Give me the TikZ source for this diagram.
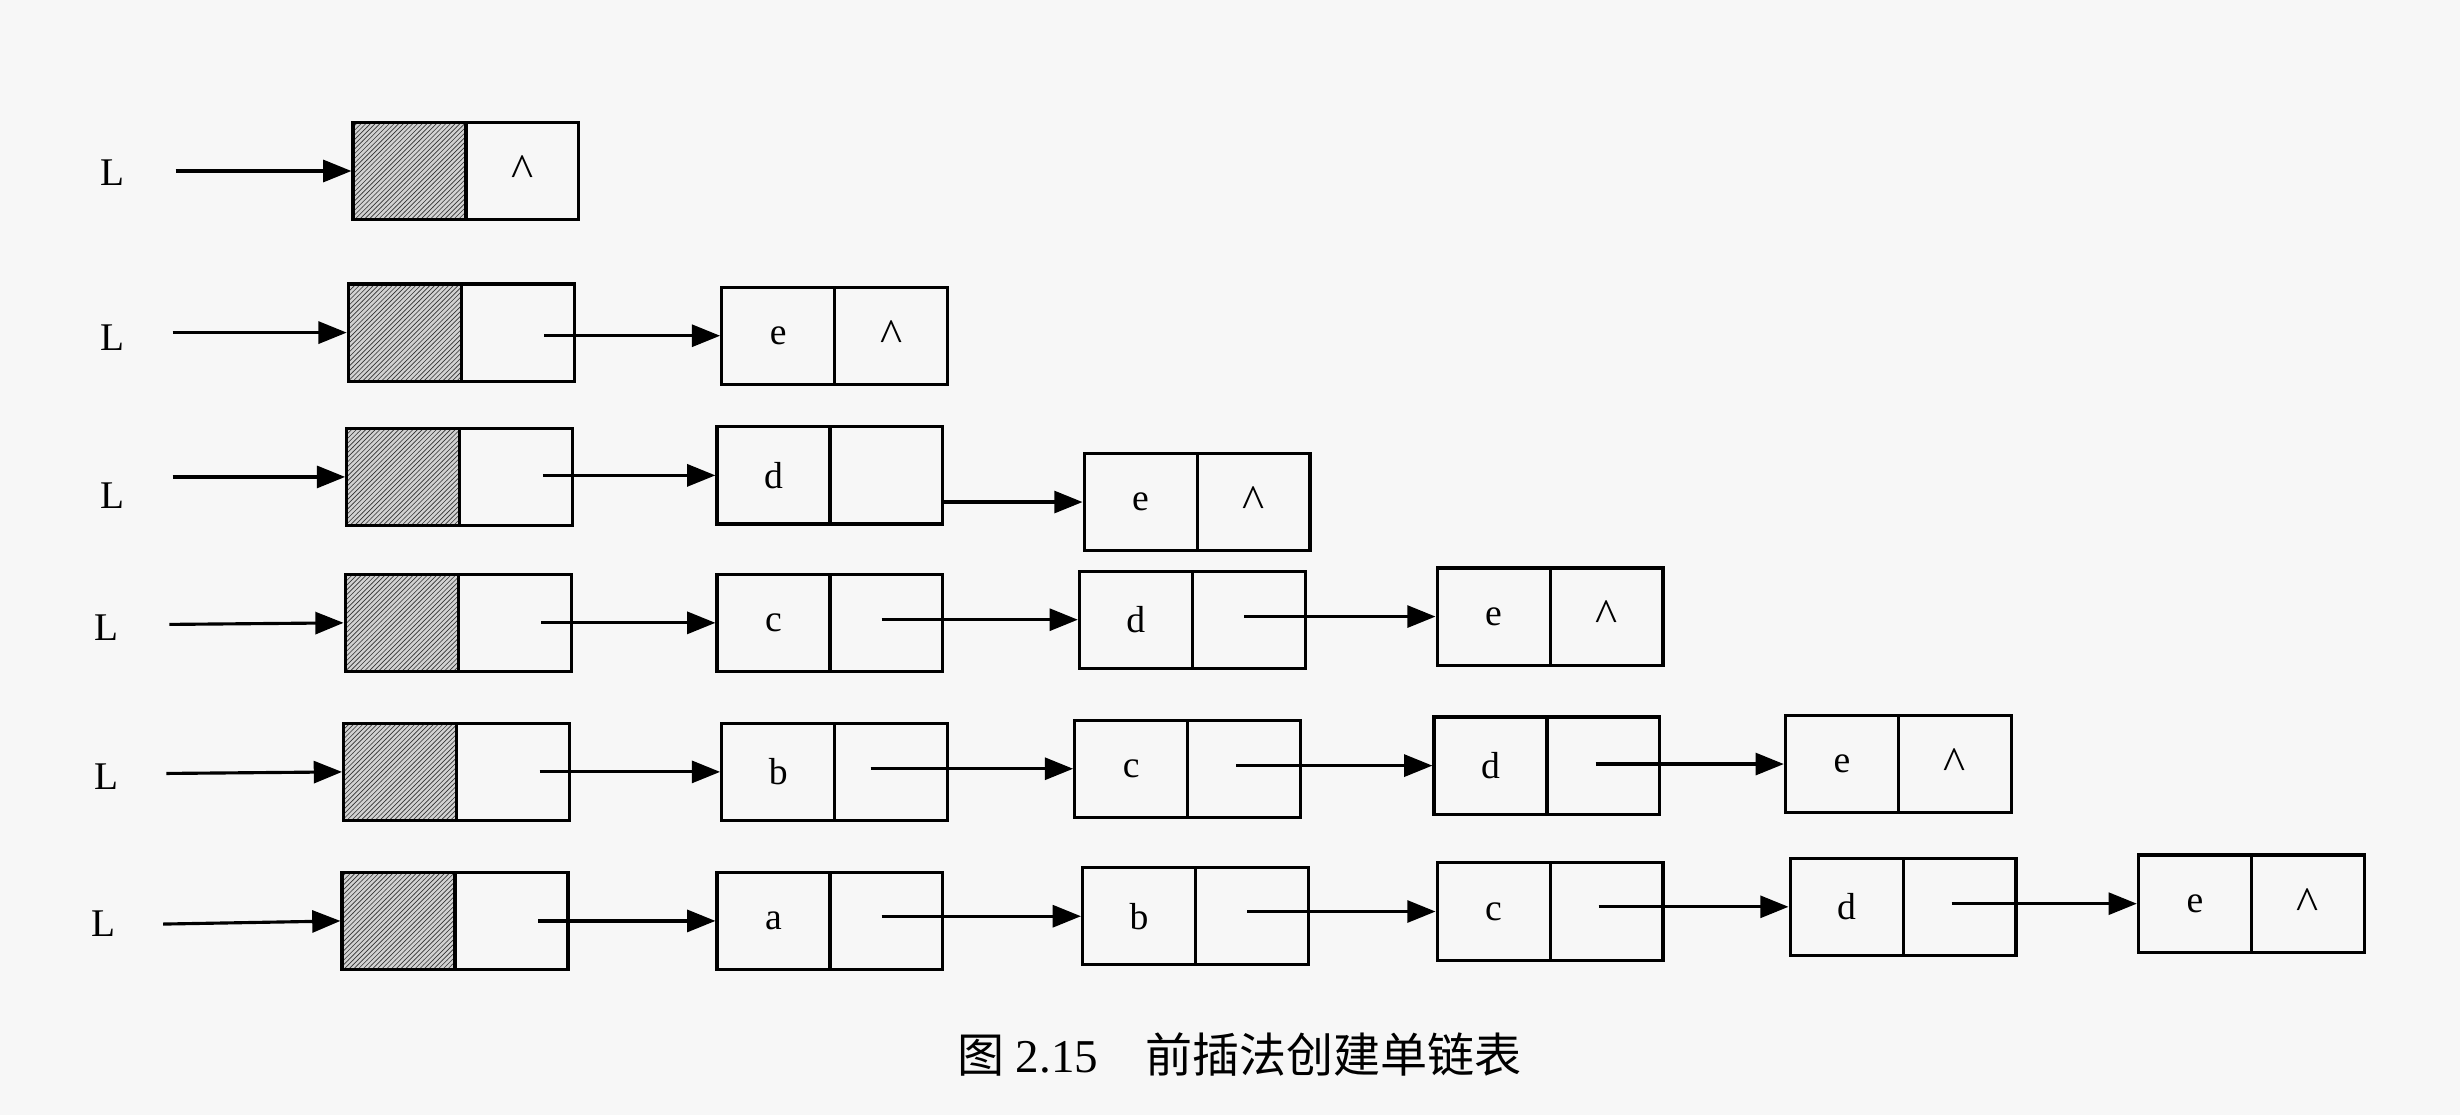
\documentclass[tikz,border=0pt]{standalone}
\usepackage{fontspec}
\setmainfont{Liberation Serif}
\newfontfamily\cjk{Noto Sans CJK SC}
\usetikzlibrary{arrows.meta,patterns}
\tikzset{
  cellbox/.style={draw,line width=2pt,minimum width=72pt,minimum height=62pt,inner sep=0pt,font=\fontsize{24}{28}\selectfont},
  hatch/.style={cellbox,preaction={fill=gray!35},pattern=north east lines,pattern color=black!80},
  link/.style={line width=2pt,-{Triangle[length=18pt,width=14pt]}},
  lbl/.style={font=\fontsize{25}{28}\selectfont}
}
\newcommand{\nil}{\fontsize{30}{30}\selectfont\raisebox{-4pt}{\textasciicircum}}
\newcommand{\lnk}[5]{% name, left x, center y, letter, right text
  \node[cellbox] (#1a) at (#2+36,-#3) {#4};
  \node[cellbox] (#1b) at (#2+108,-#3) {#5};}
\newcommand{\hd}[3]{% name, left x, center y
  \node[hatch] (#1a) at (#2+36,-#3) {};
  \node[cellbox] (#1b) at (#2+108,-#3) {};}
\newcommand{\ar}[3]{\draw[link] ([xshift=#2]#1 |- #3.west) -- (#3.west);}
\begin{document}
\begin{tikzpicture}[x=1pt,y=1pt]
\useasboundingbox[fill=gray!6] (0,0) rectangle (1568,-711);
% row1
\node[lbl] (L1) at (72,-110) {L};
\hd{h1}{225}{109}
\node[cellbox] at (h1b) {\nil};
\draw[link] (112,-109) -- (h1a.west);
% row2
\node[lbl] (L2) at (72,-215) {L};
\hd{h2}{222}{212}
\lnk{r2e}{460}{214}{e}{\nil}
\draw[link] (110,-212) -- (h2a.west);
\ar{h2b.east}{-20pt}{r2ea}
% row3
\node[lbl] (L3) at (72,-316) {L};
\hd{h3}{221}{304}
\lnk{r3d}{457}{303}{d}{}
\lnk{r3e}{691}{320}{e}{\nil}
\draw[link] (110,-304) -- (h3a.west);
\ar{h3b.east}{-20pt}{r3da}
\ar{r3db.east}{0pt}{r3ea}
% row4
\node[lbl] (L4) at (68,-400) {L};
\hd{h4}{220}{397}
\lnk{r4c}{457}{397}{c}{}
\lnk{r4d}{688}{395}{d}{}
\lnk{r4e}{916}{393}{e}{\nil}
\draw[link] (108,-398) -- (h4a.west);
\ar{h4b.east}{-20pt}{r4ca}
\ar{r4cb.east}{-40pt}{r4da}
\ar{r4db.east}{-40pt}{r4ea}
% row5
\node[lbl] (L5) at (68,-495) {L};
\hd{h5}{219}{492}
\lnk{r5b}{460}{492}{b}{}
\lnk{r5c}{685}{490}{c}{}
\lnk{r5d}{914}{488}{d}{}
\lnk{r5e}{1138}{487}{e}{\nil}
\draw[link] (106,-493) -- (h5a.west);
\ar{h5b.east}{-20pt}{r5ba}
\ar{r5bb.east}{-50pt}{r5ca}
\ar{r5cb.east}{-42pt}{r5da}
\ar{r5db.east}{-42pt}{r5ea}
% row6
\node[lbl] (L6) at (66,-589) {L};
\hd{h6}{218}{587}
\lnk{r6a}{457}{587}{a}{}
\lnk{r6b}{690}{584}{b}{}
\lnk{r6c}{916}{581}{c}{}
\lnk{r6d}{1141}{578}{d}{}
\lnk{r6e}{1363}{576}{e}{\nil}
\draw[link] (104,-589) -- (h6a.west);
\ar{h6b.east}{-20pt}{r6aa}
\ar{r6ab.east}{-40pt}{r6ba}
\ar{r6bb.east}{-40pt}{r6ca}
\ar{r6cb.east}{-42pt}{r6da}
\ar{r6db.east}{-42pt}{r6ea}
% caption
\node[font=\fontsize{30}{34}\selectfont] (cap) at (790,-672) {{\cjk 图} 2.15\hspace{30pt}{\cjk 前插法创建单链表}};
\end{tikzpicture}
\end{document}
